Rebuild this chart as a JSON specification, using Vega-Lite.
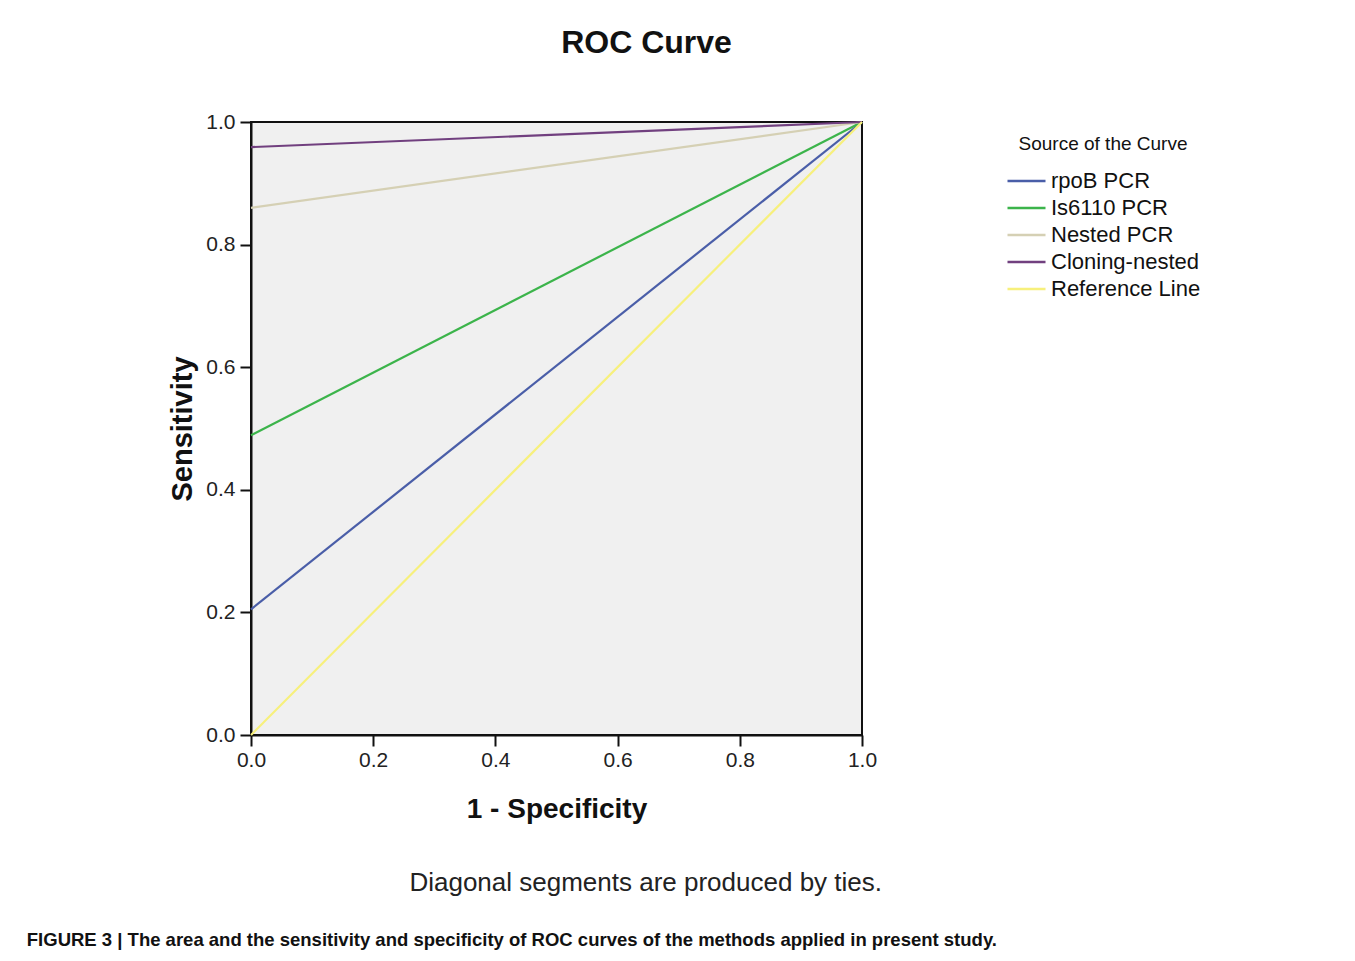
{
  "$schema": "https://vega.github.io/schema/vega-lite/v6.json",
  "autosize": {"type": "pad"},
  "padding": {"left": 26, "top": 26, "right": 0, "bottom": 0},
  "background": "white",
  "config": {
    "font": "Liberation Sans",
    "view": {"fill": "#f0f0f0", "stroke": "#111111", "strokeWidth": 2},
    "concat": {"spacing": 0}
  },
  "title": {
    "text": "FIGURE 3 | The area and the sensitivity and specificity of ROC curves of the methods applied in present study.",
    "orient": "bottom",
    "anchor": "start",
    "fontSize": 18.5,
    "fontWeight": "bold",
    "color": "#111111",
    "dx": -141,
    "offset": 35
  },
  "vconcat": [
    {
      "title": {
        "text": "Diagonal segments are produced by ties.",
        "orient": "bottom",
        "anchor": "middle",
        "fontSize": 26,
        "fontWeight": "normal",
        "color": "#222222",
        "dx": 123,
        "offset": 46
      },
      "vconcat": [
        {
          "width": 611,
          "height": 613,
          "title": {
            "text": "ROC Curve",
            "anchor": "middle",
            "fontSize": 32,
            "fontWeight": "bold",
            "color": "#111111",
            "dx": 90,
            "offset": 51
          },
          "data": {
            "values": [
              {"source": "rpoB PCR", "fpr": 0, "tpr": 0.205},
              {"source": "rpoB PCR", "fpr": 1, "tpr": 1},
              {"source": "Is6110 PCR", "fpr": 0, "tpr": 0.489},
              {"source": "Is6110 PCR", "fpr": 1, "tpr": 1},
              {"source": "Nested PCR", "fpr": 0, "tpr": 0.860},
              {"source": "Nested PCR", "fpr": 1, "tpr": 1},
              {"source": "Cloning-nested", "fpr": 0, "tpr": 0.959},
              {"source": "Cloning-nested", "fpr": 1, "tpr": 1},
              {"source": "Reference Line", "fpr": 0, "tpr": 0},
              {"source": "Reference Line", "fpr": 1, "tpr": 1}
            ]
          },
          "mark": {"type": "line", "strokeWidth": 2.2, "clip": false},
          "encoding": {
            "x": {
              "field": "fpr",
              "type": "quantitative",
              "scale": {"domain": [0, 1], "nice": false, "zero": false},
              "axis": {
                "title": "1 - Specificity",
                "values": [0, 0.2, 0.4, 0.6, 0.8, 1],
                "format": ".1f",
                "grid": false,
                "domainColor": "#111111",
                "domainWidth": 2,
                "tickColor": "#111111",
                "tickWidth": 2,
                "tickSize": 11,
                "labelFontSize": 21,
                "labelColor": "#222222",
                "labelPadding": 3,
                "labelFlush": false,
                "titleFontSize": 28,
                "titleFontWeight": "bold",
                "titleColor": "#111111",
                "titlePadding": 25
              }
            },
            "y": {
              "field": "tpr",
              "type": "quantitative",
              "scale": {"domain": [0, 1], "nice": false, "zero": false},
              "axis": {
                "title": "Sensitivity",
                "values": [0, 0.2, 0.4, 0.6, 0.8, 1],
                "format": ".1f",
                "grid": false,
                "domainColor": "#111111",
                "domainWidth": 2,
                "tickColor": "#111111",
                "tickWidth": 2,
                "tickSize": 11,
                "labelFontSize": 21,
                "labelColor": "#222222",
                "labelPadding": 5,
                "labelFlush": false,
                "titleFontSize": 29,
                "titleFontWeight": "bold",
                "titleColor": "#111111",
                "titlePadding": 8
              }
            },
            "color": {
              "field": "source",
              "type": "nominal",
              "scale": {
                "domain": ["rpoB PCR", "Is6110 PCR", "Nested PCR", "Cloning-nested", "Reference Line"],
                "range": ["#4a5ea8", "#3cb44b", "#d5d0b4", "#71407f", "#f7f07c"]
              },
              "legend": {
                "title": "Source of the Curve",
                "orient": "none",
                "legendX": 755,
                "legendY": 13,
                "symbolType": "M-1,0H3",
                "symbolSize": 361,
                "symbolStrokeWidth": 2.5,
                "labelFontSize": 22,
                "labelColor": "#111111",
                "labelOffset": 23,
                "rowPadding": 5,
                "titleFontSize": 19,
                "titleFontWeight": "normal",
                "titleColor": "#111111",
                "titleAnchor": "middle",
                "titlePadding": 16
              }
            }
          }
        }
      ]
    }
  ]
}
